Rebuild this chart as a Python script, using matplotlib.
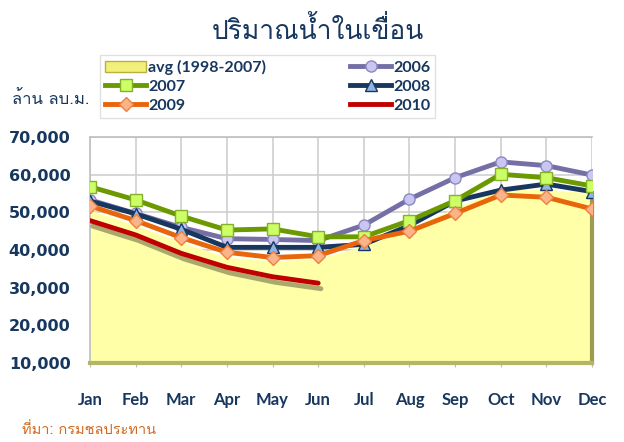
import matplotlib
matplotlib.use("Agg")
import matplotlib.pyplot as plt
import matplotlib.patheffects as pe
from matplotlib.patches import Patch
from matplotlib.lines import Line2D
import numpy as np

THAI = ["Loma", "DejaVu Sans"]
LATIN = ["Lato", "Loma", "DejaVu Sans"]
NAVY = "#17375E"

months = ["Jan", "Feb", "Mar", "Apr", "May", "Jun",
          "Jul", "Aug", "Sep", "Oct", "Nov", "Dec"]
avg_9807 = [50500, 46500, 42000, 38000, 37000, 37500,
            41000, 45500, 51000, 56000, 56000, 55000]
y2006 = [53300, 49700, 46000, 43000, 42800, 42500,
         46600, 53500, 59200, 63400, 62400, 59900]
y2007 = [56800, 53300, 49000, 45300, 45600, 43500,
         43500, 47800, 53100, 60100, 59200, 57000]
y2008 = [53000, 49600, 45500, 40700, 40700, 40700,
         41500, 46500, 53000, 55900, 57500, 55500]
y2009 = [51700, 47800, 43300, 39400, 38000, 38500,
         42500, 45000, 49700, 54600, 54000, 50900]
y2010 = [47800, 44000, 39100, 35400, 32900, 31200]
yticks = [10000, 20000, 30000, 40000, 50000, 60000, 70000]

x = np.arange(len(months))

fig = plt.figure(figsize=(6.24, 4.42), dpi=100)
ax = fig.add_axes([90 / 624, 1 - 363 / 442, 502 / 624, 226 / 442])

# grid drawn by hand so it sits under the yellow area
for yv in yticks:
    ax.axhline(yv, color="#CFCFCF", lw=1.2, zorder=0.5)
for xv in x:
    ax.axvline(xv, color="#CFCFCF", lw=1.2, zorder=0.5)

ax.fill_between(x, 0, avg_9807, color="#FFFFA8", edgecolor="none", zorder=1)

ax.plot(x, y2006, color="#7470A6", lw=3.5, marker="o", ms=8,
        mfc="#C9C7F2", mec="#8C88C4", mew=1, zorder=3)
ax.plot(x, y2007, color="#6A9A00", lw=3.5, marker="s", ms=8,
        mfc="#CCFF66", mec="#86B02A", mew=1, zorder=4)
ax.plot(x, y2008, color=NAVY, lw=3.5, marker="^", ms=9,
        mfc="#8EB4E3", mec=NAVY, mew=1, zorder=3)
ax.plot(x, y2009, color="#E8650A", lw=3.5, marker="D", ms=7,
        mfc="#FAB48A", mec="#F08040", mew=1, zorder=5)
ax.plot(x[:len(y2010)], y2010, color="#C00000", lw=3.5, zorder=5,
        solid_capstyle="round",
        path_effects=[pe.SimpleLineShadow(offset=(2, -4), shadow_color="#555533", alpha=0.5),
                      pe.Normal()])

ax.set_xlim(0, 11)
ax.set_ylim(10000, 70000)
ax.set_xticks(x)
ax.set_xticklabels(months, fontsize=12, fontweight="bold", color=NAVY, family=LATIN)
ax.set_yticks(yticks)
ax.set_yticklabels([f"{v:,}" for v in yticks], fontsize=11.5, fontweight="bold",
                   color=NAVY, family=["DejaVu Sans"])
ax.tick_params(axis="x", length=3, color="#BBBBBB", pad=18)
ax.tick_params(axis="y", length=0, pad=14)
for side in ["left", "top", "right"]:
    ax.spines[side].set_color("#BFBFBF")
    ax.spines[side].set_linewidth(1.2)
ax.spines["right"].set_color("#9C9C50")
ax.spines["right"].set_linewidth(3)
ax.spines["right"].set_bounds(10000, avg_9807[-1])
ax.spines["bottom"].set_color("#B5B56A")
ax.spines["bottom"].set_linewidth(3)

handles = [
    Patch(facecolor="#F2F07A", edgecolor="#B8B040", lw=1),
    Line2D([], [], color="#6A9A00", lw=3.5, marker="s", ms=8, mfc="#CCFF66", mec="#86B02A"),
    Line2D([], [], color="#E8650A", lw=3.5, marker="D", ms=7, mfc="#FAB48A", mec="#F08040"),
    Line2D([], [], color="#7470A6", lw=3.5, marker="o", ms=8, mfc="#C9C7F2", mec="#8C88C4"),
    Line2D([], [], color=NAVY, lw=3.5, marker="^", ms=9, mfc="#8EB4E3", mec=NAVY),
    Line2D([], [], color="#C00000", lw=3.5),
]
labels = ["avg (1998-2007)", "2007", "2009", "2006", "2008", "2010"]
leg = fig.legend(handles, labels, ncol=2, loc="upper left",
                 bbox_to_anchor=(100 / 624, 1 - 130 / 442, 335 / 624, 75 / 442),
                 mode="expand", frameon=True, fancybox=False, borderaxespad=0,
                 handlelength=2.6, handletextpad=0.1, labelspacing=0.3,
                 columnspacing=1.0, borderpad=0.3,
                 prop={"family": LATIN, "weight": "bold", "size": 11.5})
leg.get_frame().set_edgecolor("#D9D9D9")
leg.get_frame().set_linewidth(1)
for t in leg.get_texts():
    t.set_color(NAVY)

fig.text(0.51, 1 - 30 / 442, "ปริมาณน้ำในเขื่อน", ha="center", va="center",
         fontsize=19, color=NAVY, family=THAI)
fig.text(12 / 624, 1 - 100 / 442, "ล้าน ลบ.ม.", ha="left", va="center",
         fontsize=12, color=NAVY, family=THAI)
fig.text(22 / 624, 1 - 430 / 442, "ที่มา: กรมชลประทาน", ha="left", va="center",
         fontsize=10.5, color="#D2691E", family=THAI)

fig.savefig("out.png", dpi=100)
